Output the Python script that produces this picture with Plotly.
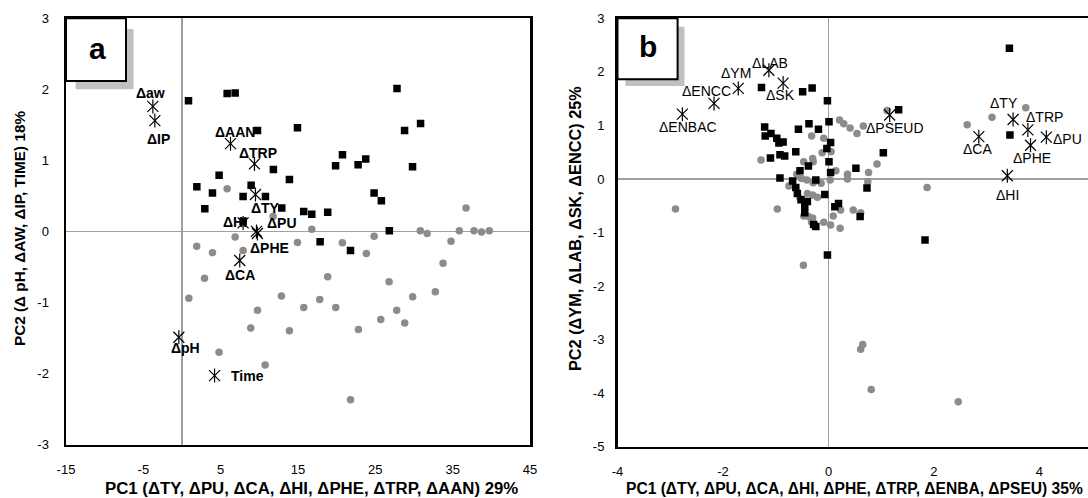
import plotly.graph_objects as go

W, H = 1088, 498

# ---------------- Panel a data ----------------
a_sq_x = [0.84, 5.84, 6.87, 27.8, 9.76, 14.93, 28.78, 30.85, 11.82, 13.89, 4.8, 1.92, 3.94, 2.95,
          8.94, 7.9, 10.79, 12.9, 15.74, 16.78, 18.84, 19.86, 20.75, 22.77, 23.76, 29.81, 24.84,
          25.78, 26.81, 17.86, 21.79, 7.9]
a_sq_y = [1.84, 1.94, 1.95, 2.01, 1.42, 1.46, 1.42, 1.52, 0.87, 0.73, 0.79, 0.63, 0.54, 0.32,
          0.65, 0.49, 0.49, 0.33, 0.28, 0.24, 0.27, 0.925, 1.08, 0.94, 1.02, 0.91, 0.54,
          0.43, 0.01, -0.145, -0.27, 0.14]
a_ci_x = [5.84, 11.78, 16.78, 6.87, 1.9, 3.94, 7.9, 14.93, 20.74, 23.84, 24.84, 30.82, 31.7,
          2.91, 18.84, 26.78, 0.88, 12.86, 17.81, 29.83, 9.76, 15.74, 19.88, 27.76, 25.7, 28.8,
          8.89, 13.89, 22.81, 36.73, 35.86, 37.76, 38.74, 39.74, 34.79, 33.76, 32.76, 4.79,
          10.75, 21.79]
a_ci_y = [0.60, 0.21, 0.03, -0.08, -0.21, -0.30, -0.27, -0.155, -0.16, -0.31, -0.07, 0.01, -0.03,
          -0.66, -0.64, -0.71, -0.94, -0.91, -0.96, -0.92, -1.11, -1.07, -1.07, -1.11, -1.24, -1.29,
          -1.36, -1.40, -1.38, 0.33, 0.01, 0.01, -0.01, 0.01, -0.14, -0.45, -0.85, -1.70,
          -1.88, -2.37]
a_var_names = ["Δaw", "ΔIP", "ΔAAN", "ΔTRP", "ΔTY", "ΔHI", "ΔPU", "ΔPHE", "ΔCA", "ΔpH", "Time"]
a_var_x = [-3.77, -3.51, 6.27, 9.37, 9.5, 7.9, 9.63, 9.75, 7.47, -0.41, 4.21]
a_var_y = [1.76, 1.56, 1.235, 0.95, 0.52, 0.12, 0.0, -0.03, -0.41, -1.49, -2.03]
a_xticks = [-15, -5, 5, 15, 25, 35, 45]
a_yticks = [-3, -2, -1, 0, 1, 2, 3]
a_xtitle = "PC1 (ΔTY, ΔPU, ΔCA, ΔHI, ΔPHE, ΔTRP, ΔAAN) 29%"
a_ytitle = "PC2 (Δ pH, ΔAW, ΔIP, TIME) 18%"

# ---------------- Panel b data ----------------
b_sq_x = [-1.27, -0.49, -0.31, -0.02, 1.33, 0.01, -1.21, -1.2, -1.09, -0.98, -0.94, -0.86, -0.92,
          -0.83, -1.10, -0.62, -0.57, -0.37, -0.19, 0.04, -0.03, 0.01, 0.04, 0.52, 1.04, -0.92,
          -0.54, -0.38, -0.68, -0.62, -0.59, -0.52, -0.45, -0.40, -0.24, -0.07, -0.28, -0.24,
          0.12, 0.19, 0.60, 0.73, -0.02, 3.43, 3.44, 1.83, -0.45]
b_sq_y = [1.71, 1.63, 1.70, 1.46, 1.29, 1.07, 0.97, 0.80, 0.85, 0.76, 0.67, 0.69, 0.45,
          0.43, 0.39, 0.51, 0.93, 1.03, 0.93, 0.68, 0.57, 0.32, 0.12, 0.20, 0.49, 0.02,
          0.155, 0.24, -0.04, -0.16, -0.27, -0.39, -0.50, -0.42, -0.02, -0.29, -0.85, -0.89,
          -0.52, -0.46, -0.70, -0.17, -1.42, 2.44, 0.82, -1.14, -0.63]
b_ci_x = [0.21, 0.29, 0.41, 0.54, 0.66, 0.92, 0.76, 0.745, 0.47, 0.61, 0.23, 0.09, 0.22, -0.09,
          0.04, -2.90, -0.97, -1.28, -0.32, -0.09, 1.11, -0.12, 0.05, -0.30, -0.29, -0.47, 0.14,
          0.36, 0.36, -0.60, -0.51, -0.41, -0.29, -0.14, 0.03, -0.75, -0.40, -0.30, -0.21, -0.54,
          -0.47, -0.38, -0.30, -0.32, 1.87, 2.63, 3.10, 3.74, -0.475, 0.65, 0.61, 0.81, 2.46]
b_ci_y = [1.10, 1.03, 0.95, 0.85, 0.99, 0.28, 0.12, -0.05, -0.58, -0.63, -0.58, -0.69, -0.92, -0.81,
          -0.86, -0.56, -0.56, 0.355, 0.80, 0.76, 1.28, 0.49, 0.51, 0.38, 0.32, 0.32, 0.155,
          0.09, 0.0, 0.09, 0.01, -0.02, -0.07, -0.08, -0.02, -0.13, -0.27, -0.30, -0.34, -0.36,
          -0.69, -0.70, -0.73, -0.81, -0.16, 1.01, 1.15, 1.33, -1.61, -3.09, -3.18, -3.93, -4.16]
b_var_names = ["ΔENBAC", "ΔENCC", "ΔYM", "ΔLAB", "ΔSK", "ΔPSEUD", "ΔTY", "ΔTRP", "ΔPU", "ΔPHE",
               "ΔCA", "ΔHI"]
b_var_x = [-2.77, -2.17, -1.71, -1.13, -0.86, 1.16, 3.50, 3.78, 4.13, 3.83, 2.85, 3.39]
b_var_y = [1.21, 1.41, 1.69, 2.03, 1.79, 1.195, 1.11, 0.915, 0.78, 0.63, 0.79, 0.06]
b_xticks = [-4, -2, 0, 2, 4]
b_yticks = [-5, -4, -3, -2, -1, 0, 1, 2, 3]
b_xtitle = "PC1 (ΔTY, ΔPU, ΔCA, ΔHI, ΔPHE, ΔTRP, ΔENBA, ΔPSEU) 35%"
b_ytitle = "PC2 (ΔYM, ΔLAB, ΔSK, ΔENCC) 25%"

# ---------------- Styling / layout (pixels) ----------------
FONT = "Arial, 'Liberation Sans', Helvetica, sans-serif"
GRAY = "#8c8c8c"
A_LABEL_SHIFT = {"Δaw": (-2, 13), "ΔIP": (4, -18), "ΔAAN": (5, 12), "ΔTRP": (4, 11),
                 "ΔTY": (10, -14), "ΔHI": (-8, 1), "ΔPU": (26, 8), "ΔPHE": (12, -14),
                 "ΔCA": (0, -14), "ΔpH": (7, -11), "Time": (33, 0)}
B_LABEL_SHIFT = {"ΔENBAC": (6, -13), "ΔENCC": (-8, 12), "ΔYM": (-2, 15), "ΔLAB": (1, 7),
                 "ΔSK": (-3, -12), "ΔPSEUD": (5, -13), "ΔTY": (-9, 17), "ΔTRP": (17, 13),
                 "ΔPU": (21, -2), "ΔPHE": (1, -13), "ΔCA": (-1, -12), "ΔHI": (0, -19)}


def px(x):
    return x / W


def py(y):
    return 1 - y / H


def labels(vals):
    return [str(v) for v in vals]


fig = go.Figure()


def add_markers(xs, ys, xa, ya, symbol, color, size, lw=0):
    fig.add_trace(go.Scatter(
        x=xs, y=ys, xaxis=xa, yaxis=ya, mode="markers", hoverinfo="skip", showlegend=False,
        marker=dict(symbol=symbol, color=color, size=size,
                    line=dict(width=lw, color=color))))


for (cx, cy, sx, sy, vx, vy, xa, ya) in [
        (a_ci_x, a_ci_y, a_sq_x, a_sq_y, a_var_x, a_var_y, "x", "y"),
        (b_ci_x, b_ci_y, b_sq_x, b_sq_y, b_var_x, b_var_y, "x2", "y2")]:
    add_markers(cx, cy, xa, ya, "circle", GRAY, 7.5)
    add_markers(sx, sy, xa, ya, "square", "black", 7.5)
    add_markers(vx, vy, xa, ya, "x-thin-open", "black", 11, 1.2)
    add_markers(vx, vy, xa, ya, "line-ns-open", "black", 10, 1.2)

annotations = []
for names, xs, ys, shifts, xr, yr, bold in [
        (a_var_names, a_var_x, a_var_y, A_LABEL_SHIFT, "x", "y", True),
        (b_var_names, b_var_x, b_var_y, B_LABEL_SHIFT, "x2", "y2", False)]:
    for n, x, y in zip(names, xs, ys):
        dx, dy = shifts[n]
        annotations.append(dict(
            x=x, y=y, xref=xr, yref=yr, text=("<b>%s</b>" % n) if bold else n,
            showarrow=False, xshift=dx, yshift=dy, xanchor="center", yanchor="middle",
            font=dict(family=FONT, size=14, color="black")))

# axis titles
annotations += [
    dict(x=px(311.6), y=py(488), xref="paper", yref="paper", text="<b>%s</b>" % a_xtitle,
         showarrow=False, xanchor="center", yanchor="middle",
         font=dict(family=FONT, size=16.8, color="black")),
    dict(x=px(624), y=py(488), xref="paper", yref="paper", text="<b>%s</b>" % b_xtitle,
         showarrow=False, xanchor="left", yanchor="middle",
         font=dict(family=FONT, size=15.6, color="black")),
    dict(x=px(20), y=py(229), xref="paper", yref="paper", text="<b>%s</b>" % a_ytitle,
         showarrow=False, textangle=-90, xanchor="center", yanchor="middle",
         font=dict(family=FONT, size=15.3, color="black")),
    dict(x=px(575), y=py(229), xref="paper", yref="paper", text="<b>%s</b>" % b_ytitle,
         showarrow=False, textangle=-90, xanchor="center", yanchor="middle",
         font=dict(family=FONT, size=16.3, color="black")),
    dict(x=px(97.8), y=py(48.5), xref="paper", yref="paper", text="<b>a</b>",
         showarrow=False, xanchor="center", yanchor="middle",
         font=dict(family=FONT, size=30, color="black")),
    dict(x=px(648), y=py(47), xref="paper", yref="paper", text="<b>b</b>",
         showarrow=False, xanchor="center", yanchor="middle",
         font=dict(family=FONT, size=30, color="black")),
]

shapes = [
    dict(type="rect", xref="paper", yref="paper", x0=px(75.6), x1=px(133.6), y0=py(89.3), y1=py(29),
         fillcolor="#c0c0c0", line=dict(width=0), layer="above"),
    dict(type="rect", xref="paper", yref="paper", x0=px(66), x1=px(126), y0=py(81), y1=py(18.3),
         fillcolor="white", line=dict(width=2, color="black"), layer="above"),
    dict(type="rect", xref="paper", yref="paper", x0=px(625.5), x1=px(684.5), y0=py(86), y1=py(26.7),
         fillcolor="#c0c0c0", line=dict(width=0), layer="above"),
    dict(type="rect", xref="paper", yref="paper", x0=px(617.5), x1=px(677.6), y0=py(79.3), y1=py(18.3),
         fillcolor="white", line=dict(width=2, color="black"), layer="above"),
]

axis_common = dict(showgrid=False, showline=True, linecolor="black", linewidth=2.5,
                   zeroline=True, zerolinecolor="#a0a0a0", zerolinewidth=1.2,
                   ticks="outside", tickcolor="rgba(0,0,0,0)", automargin=False,
                   tickfont=dict(family=FONT, size=13, color="black"), fixedrange=True,
                   tickmode="array")

fig.update_layout(
    template="none",
    width=W, height=H, margin=dict(l=0, r=0, t=0, b=0, pad=0, autoexpand=False),
    paper_bgcolor="white", plot_bgcolor="white", showlegend=False,
    xaxis=dict(domain=[px(66), px(530)], range=[-15, 45], tickvals=a_xticks,
               ticktext=labels(a_xticks), ticklen=11,
               anchor="y", mirror=True, **axis_common),
    yaxis=dict(domain=[py(444.5), py(18.3)], range=[-3, 3], tickvals=a_yticks,
               ticktext=labels(a_yticks), ticklen=12,
               anchor="x", mirror=True, **axis_common),
    xaxis2=dict(domain=[px(617.5), 1.0], range=[-4, 4.92], tickvals=b_xticks,
                ticktext=labels(b_xticks), ticklen=11,
                anchor="y2", mirror=True, **axis_common),
    yaxis2=dict(domain=[py(446.7), py(18.3)], range=[-5, 3], tickvals=b_yticks,
                ticktext=labels(b_yticks), ticklen=8,
                anchor="x2", mirror=False, **axis_common),
    annotations=annotations, shapes=shapes,
)

# remove the browser's default 8px page margin so the figure sits at the window origin
fig.write_html("out.html", config={"displayModeBar": False, "staticPlot": True},
               post_script="document.body.style.margin='0';document.body.style.overflow='hidden';")
